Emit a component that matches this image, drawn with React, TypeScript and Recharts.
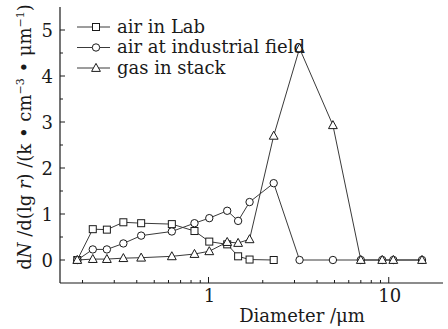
import React from 'react';
import { LineChart, Line, XAxis, YAxis, Legend } from 'recharts';

document.body.style.margin = '0';

const INK = '#1a1a1a';
const LINE = '#3a3a3a';
const FONT = '"DejaVu Serif", serif';

// particle diameter channels (μm)
const diameters = [0.187, 0.228, 0.273, 0.337, 0.423, 0.626, 0.836, 1.01, 1.27, 1.46, 1.69, 2.3, 3.2, 4.9, 7.0, 9.2, 10.6, 15.3];

// dN/d(lg r), k·cm^-3·μm^-1
const airInLab = [0, 0.67, 0.66, 0.82, 0.8, 0.78, 0.63, 0.4, 0.34, 0.08, 0.01, 0];
const airIndustrialField = [0, 0.23, 0.23, 0.36, 0.53, 0.62, 0.8, 0.91, 1.07, 0.85, 1.26, 1.67, 0, 0, 0, 0, 0, 0];
const gasInStack = [0, 0.02, 0.02, 0.04, 0.05, 0.08, 0.13, 0.19, 0.39, 0.37, 0.45, 2.7, 4.6, 2.93, 0, 0, 0, 0];

const seriesNames = ['air in Lab', 'air at industrial field', 'gas in stack'];

const xMajorTicks = [1, 10];
const xTicks = [0.2, 0.3, 0.4, 0.5, 0.6, 0.7, 0.8, 0.9, 1, 2, 3, 4, 5, 6, 7, 8, 9, 10];
const yMajorTicks = [0, 1, 2, 3, 4, 5];
const yTicks = [0, 0.5, 1, 1.5, 2, 2.5, 3, 3.5, 4, 4.5, 5];

const data = diameters.map((d, i) => ({
  d,
  lab: i < airInLab.length ? airInLab[i] : null,
  field: airIndustrialField[i],
  stack: gasInStack[i],
}));

type Shape = 'square' | 'circle' | 'triangle';

const shapes: Shape[] = ['square', 'circle', 'triangle'];

const Marker = ({ cx, cy, shape }: { cx?: number; cy?: number; shape: Shape }) => {
  if (cx == null || cy == null || isNaN(cx) || isNaN(cy)) return null;
  if (shape === 'square') {
    return <rect x={cx - 3.5} y={cy - 3.5} width={7} height={7} fill="#fff" stroke={INK} strokeWidth={1} />;
  }
  if (shape === 'circle') {
    return <circle cx={cx} cy={cy} r={3.7} fill="#fff" stroke={INK} strokeWidth={1} />;
  }
  return (
    <polygon
      points={`${cx},${cy - 4.6} ${cx - 4.4},${cy + 3.4} ${cx + 4.4},${cy + 3.4}`}
      fill="#fff"
      stroke={INK}
      strokeWidth={1}
    />
  );
};

const dotFor = (shape: Shape) => (p: any) => (
  <Marker key={`${shape}-${p.index}`} cx={p.cx} cy={p.cy} shape={shape} />
);

const BottomTick = ({ x, y, payload }: any) => {
  const major = xMajorTicks.includes(payload.value);
  return (
    <g>
      <line x1={x} x2={x} y1={y} y2={y - (major ? 6 : 3)} stroke={INK} strokeWidth={1} />
      {major && (
        <text x={x + 1} y={y + 19} textAnchor="middle" fontSize={18} fontFamily={FONT} fill={INK}>
          {payload.value}
        </text>
      )}
    </g>
  );
};

const LeftTick = ({ x, y, payload }: any) => {
  const major = yMajorTicks.includes(payload.value);
  return (
    <g>
      <line x1={x} x2={x + (major ? 5 : 3)} y1={y} y2={y} stroke={INK} strokeWidth={1} />
      {major && (
        <text x={x - 7} y={y + 6.5} textAnchor="end" fontSize={18} fontFamily={FONT} fill={INK}>
          {payload.value}
        </text>
      )}
    </g>
  );
};

const RightTick = ({ x, y }: any) => (
  <line x1={x} x2={x - 3} y1={y} y2={y} stroke={INK} strokeWidth={1} />
);

const YTitle = () => (
  <text
    x={31}
    y={137}
    transform="rotate(-90, 31, 137)"
    textAnchor="middle"
    fontSize={18}
    fontFamily={FONT}
    fill={INK}
  >
    d<tspan fontStyle="italic">N</tspan> /d(lg <tspan fontStyle="italic">r</tspan>) /(k • cm
    <tspan dy={-7} fontSize={11}>−3</tspan>
    <tspan dy={7}> • μm</tspan>
    <tspan dy={-7} fontSize={11}>−1</tspan>
    <tspan dy={7}>)</tspan>
  </text>
);

const XTitle = () => (
  <text x={302} y={322} textAnchor="middle" fontSize={18} fontFamily={FONT} fill={INK}>
    Diameter /μm
  </text>
);

// legend rows keep the plotting order of the series
const LegendBox = () => (
  <svg width={260} height={66} style={{ display: 'block' }}>
    {seriesNames.map((name, i) => {
      const cy = 10 + i * 20.5;
      return (
        <g key={name}>
          <line x1={0} x2={33} y1={cy} y2={cy} stroke={LINE} strokeWidth={1} />
          <Marker cx={19} cy={cy} shape={shapes[i]} />
          <text x={40} y={cy + 5.5} fontSize={18} fontFamily={FONT} fill={INK}>
            {name}
          </text>
        </g>
      );
    })}
  </svg>
);

export default function App() {
  return (
    <div style={{ width: 448, height: 329, background: '#fff' }}>
      <LineChart width={448} height={329} data={data} margin={{ top: 7, right: 5, bottom: 0, left: 0 }}>
        <XAxis
          dataKey="d"
          type="number"
          scale="log"
          domain={[0.15, 20]}
          allowDataOverflow
          ticks={xTicks}
          tick={<BottomTick />}
          tickLine={false}
          tickSize={0}
          tickMargin={0}
          interval={0}
          height={46}
          axisLine={{ stroke: INK, strokeWidth: 1.2 }}
          label={<XTitle />}
        />
        <XAxis
          xAxisId="top"
          orientation="top"
          dataKey="d"
          type="number"
          scale="log"
          domain={[0.15, 20]}
          allowDataOverflow
          tick={false}
          tickLine={false}
          height={0}
          axisLine={{ stroke: INK, strokeWidth: 1.2 }}
        />
        <YAxis
          type="number"
          domain={[-0.5, 5.5]}
          allowDataOverflow
          ticks={yTicks}
          tick={<LeftTick />}
          tickLine={false}
          tickSize={0}
          tickMargin={0}
          interval={0}
          width={60}
          axisLine={{ stroke: INK, strokeWidth: 1.2 }}
          label={<YTitle />}
        />
        <YAxis
          yAxisId="right"
          orientation="right"
          type="number"
          domain={[-0.5, 5.5]}
          allowDataOverflow
          ticks={yTicks}
          tick={<RightTick />}
          tickLine={false}
          tickSize={0}
          tickMargin={0}
          interval={0}
          width={0}
          axisLine={{ stroke: INK, strokeWidth: 1.2 }}
        />
        <Legend
          layout="vertical"
          align="center"
          verticalAlign="middle"
          wrapperStyle={{ left: 77, top: 17, width: 260, height: 66 }}
          content={<LegendBox />}
        />
        <Line
          dataKey="lab"
          name={seriesNames[0]}
          stroke={LINE}
          strokeWidth={1}
          dot={dotFor('square')}
          activeDot={false}
          isAnimationActive={false}
        />
        <Line
          dataKey="field"
          name={seriesNames[1]}
          stroke={LINE}
          strokeWidth={1}
          dot={dotFor('circle')}
          activeDot={false}
          isAnimationActive={false}
        />
        <Line
          dataKey="stack"
          name={seriesNames[2]}
          stroke={LINE}
          strokeWidth={1}
          dot={dotFor('triangle')}
          activeDot={false}
          isAnimationActive={false}
        />
      </LineChart>
    </div>
  );
}
